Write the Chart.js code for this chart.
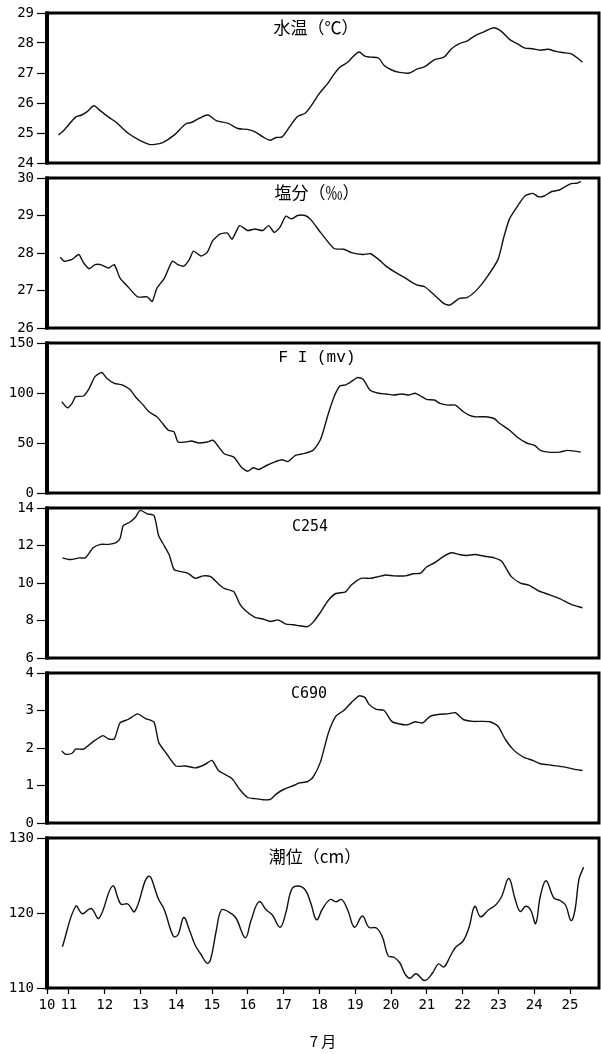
<!DOCTYPE html>
<html>
<head>
<meta charset="utf-8">
<script src="https://cdn.jsdelivr.net/npm/chart.js@4.4.0/dist/chart.umd.min.js"></script>
<style>
  html, body { margin: 0; padding: 0; background: #fff; }
  #wrap { position: relative; width: 601px; height: 1054px; background: #fff; }
  #wrap canvas { position: absolute; left: 0; }
</style>
</head>
<body>
<div id="wrap">
  <canvas id="c1" width="601" height="180" style="top:0px"></canvas>
  <canvas id="c2" width="601" height="180" style="top:165px"></canvas>
  <canvas id="c3" width="601" height="180" style="top:330px"></canvas>
  <canvas id="c4" width="601" height="180" style="top:495px"></canvas>
  <canvas id="c5" width="601" height="180" style="top:660px"></canvas>
  <canvas id="c6" width="601" height="229" style="top:825px"></canvas>
</div>
<script>
// time axis (day of July)
const dayMin = 10.39, dayMax = 25.81;
const dayTicks = [11, 12, 13, 14, 15, 16, 17, 18, 19, 20, 21, 22, 23, 24, 25];

// water temperature
const tempDay = [10.71,10.87,11.19,11.36,11.52,11.70,11.84,12.11,12.32,12.65,12.97,13.24,13.40,13.62,13.94,14.26,14.42,14.64,14.89,15.12,15.45,15.72,15.99,16.20,16.42,16.61,16.79,16.96,17.18,17.39,17.60,17.76,17.98,18.25,18.41,18.57,18.79,18.95,19.11,19.27,19.43,19.65,19.81,20.02,20.24,20.51,20.72,20.94,21.21,21.48,21.69,21.91,22.12,22.34,22.61,22.88,23.09,23.31,23.52,23.74,23.95,24.17,24.39,24.60,24.87,25.03,25.14,25.35];
const tempVal = [24.93,25.10,25.53,25.60,25.72,25.91,25.78,25.53,25.36,25.00,24.76,24.62,24.62,24.68,24.93,25.30,25.35,25.49,25.60,25.41,25.32,25.15,25.12,25.04,24.87,24.76,24.85,24.87,25.23,25.55,25.66,25.89,26.29,26.68,26.96,27.19,27.36,27.56,27.70,27.56,27.53,27.50,27.25,27.10,27.02,27.00,27.13,27.21,27.44,27.53,27.81,27.98,28.06,28.24,28.38,28.51,28.38,28.12,27.98,27.83,27.81,27.76,27.79,27.72,27.67,27.64,27.56,27.36];

// salinity
const salDay = [10.76,10.87,11.09,11.28,11.41,11.57,11.73,11.89,12.11,12.27,12.43,12.65,12.92,13.19,13.33,13.46,13.67,13.89,14.05,14.21,14.37,14.48,14.69,14.86,15.02,15.23,15.43,15.56,15.77,15.99,16.20,16.42,16.58,16.74,16.90,17.06,17.22,17.39,17.60,17.76,18.03,18.41,18.68,18.89,19.22,19.43,19.65,19.86,20.08,20.40,20.72,20.94,21.21,21.48,21.64,21.91,22.12,22.39,22.66,22.99,23.15,23.31,23.52,23.74,23.96,24.12,24.28,24.49,24.71,24.87,25.03,25.19,25.30];
const salVal = [27.89,27.78,27.83,27.96,27.74,27.58,27.69,27.69,27.60,27.69,27.33,27.10,26.83,26.83,26.71,27.06,27.33,27.78,27.69,27.65,27.83,28.05,27.92,28.01,28.33,28.51,28.53,28.37,28.73,28.60,28.64,28.60,28.73,28.55,28.69,28.98,28.91,29.00,29.00,28.89,28.55,28.12,28.10,28.01,27.96,27.98,27.83,27.65,27.51,27.33,27.15,27.10,26.88,26.65,26.61,26.79,26.81,27.01,27.33,27.83,28.42,28.91,29.23,29.52,29.59,29.50,29.52,29.64,29.68,29.77,29.85,29.86,29.91];

// fluorescence FI (mv)
const fiDay = [10.80,10.96,11.09,11.19,11.41,11.57,11.73,11.92,12.06,12.27,12.49,12.70,12.86,13.08,13.24,13.46,13.62,13.78,13.94,14.05,14.26,14.42,14.64,14.86,15.02,15.12,15.34,15.61,15.82,15.99,16.15,16.31,16.52,16.74,16.96,17.12,17.33,17.55,17.82,18.03,18.25,18.41,18.57,18.73,18.89,19.06,19.22,19.41,19.65,19.86,20.08,20.29,20.51,20.67,20.83,20.99,21.21,21.37,21.59,21.80,22.02,22.18,22.34,22.61,22.88,23.04,23.31,23.52,23.79,24.01,24.17,24.39,24.71,24.92,25.14,25.30];
const fiVal = [91.3,85.2,89.6,96.3,97.0,104.7,116.4,120.5,114.8,109.7,108.1,103.7,96.3,87.9,81.2,76.2,69.5,62.8,61.1,51.0,51.0,52.0,50.0,51.0,52.7,49.3,39.3,35.9,25.8,21.8,25.2,23.5,27.5,30.9,33.2,31.5,37.6,39.3,42.6,53.4,79.5,96.3,107.0,108.1,111.4,115.4,113.8,103.0,99.7,99.0,98.0,99.0,98.0,99.7,97.0,93.6,93.0,89.6,87.9,87.9,81.2,77.9,76.2,76.2,74.5,69.5,62.8,56.0,50.0,47.7,42.6,40.9,40.9,42.6,41.9,40.9];

// C254
const c254Day = [10.82,11.03,11.30,11.46,11.68,11.89,12.11,12.32,12.43,12.52,12.70,12.86,12.99,13.19,13.38,13.51,13.67,13.80,13.94,14.10,14.32,14.53,14.75,14.96,15.18,15.34,15.61,15.77,15.93,16.20,16.42,16.63,16.85,17.06,17.28,17.44,17.66,17.82,18.03,18.25,18.46,18.73,18.89,19.16,19.43,19.65,19.86,20.08,20.40,20.62,20.83,20.99,21.21,21.48,21.69,21.91,22.12,22.34,22.61,22.88,23.09,23.36,23.63,23.85,24.12,24.39,24.71,25.03,25.35];
const c254Val = [11.34,11.25,11.34,11.34,11.88,12.06,12.06,12.15,12.37,13.06,13.24,13.51,13.87,13.69,13.60,12.52,11.97,11.52,10.71,10.62,10.53,10.25,10.38,10.34,9.95,9.71,9.53,8.90,8.53,8.17,8.08,7.95,8.03,7.81,7.77,7.72,7.67,7.90,8.44,9.08,9.44,9.53,9.89,10.25,10.25,10.34,10.43,10.38,10.38,10.49,10.53,10.85,11.07,11.43,11.61,11.52,11.47,11.52,11.43,11.34,11.16,10.34,9.98,9.89,9.58,9.40,9.17,8.86,8.68];

// C690
const c690Day = [10.80,10.92,11.09,11.19,11.41,11.68,11.95,12.11,12.27,12.43,12.65,12.92,13.13,13.38,13.51,13.72,13.99,14.26,14.53,14.80,15.00,15.18,15.56,15.77,15.99,16.20,16.42,16.63,16.79,17.01,17.28,17.44,17.66,17.82,18.03,18.25,18.46,18.68,18.89,19.11,19.27,19.38,19.59,19.81,20.02,20.24,20.46,20.67,20.89,21.10,21.37,21.59,21.80,22.02,22.29,22.50,22.77,22.99,23.20,23.42,23.69,23.96,24.17,24.49,24.87,25.14,25.35];
const c690Val = [1.92,1.83,1.86,1.97,1.97,2.17,2.33,2.24,2.24,2.67,2.76,2.91,2.79,2.69,2.15,1.86,1.52,1.52,1.47,1.56,1.67,1.40,1.18,0.90,0.68,0.65,0.62,0.63,0.77,0.90,1.00,1.07,1.10,1.22,1.63,2.40,2.85,3.00,3.21,3.39,3.35,3.17,3.03,3.00,2.71,2.64,2.62,2.70,2.67,2.85,2.90,2.91,2.94,2.76,2.71,2.71,2.70,2.58,2.22,1.95,1.76,1.67,1.58,1.54,1.49,1.43,1.40];

// tide level (cm)
const tideDay = [10.82,11.19,11.38,11.62,11.84,12.22,12.45,12.65,12.84,13.22,13.51,13.67,13.92,14.05,14.21,14.37,14.53,14.69,14.86,14.96,15.12,15.26,15.45,15.66,15.93,16.09,16.31,16.52,16.69,16.90,17.06,17.22,17.39,17.60,17.76,17.92,18.09,18.30,18.46,18.62,18.79,18.98,19.20,19.38,19.59,19.76,19.92,20.08,20.24,20.40,20.53,20.70,20.94,21.16,21.32,21.48,21.64,21.80,22.02,22.18,22.34,22.50,22.72,22.93,23.09,23.29,23.47,23.61,23.76,23.90,24.04,24.17,24.33,24.55,24.71,24.87,25.03,25.14,25.25,25.38];
const tideVal = [115.5,120.9,119.9,120.6,119.3,123.6,121.2,121.2,120.2,124.9,121.8,120.4,116.9,117.1,119.4,117.7,115.7,114.5,113.3,113.8,117.7,120.4,120.2,119.4,116.7,119.0,121.5,120.4,119.7,118.1,120.0,123.1,123.6,123.1,121.3,119.1,120.6,121.8,121.5,121.8,120.4,118.1,119.6,118.1,118.0,116.8,114.3,114.1,113.4,111.8,111.3,111.9,111.0,112.0,113.2,112.8,114.1,115.4,116.3,118.1,120.9,119.5,120.4,121.1,122.2,124.6,121.8,120.2,120.9,120.4,118.6,122.2,124.3,122.0,121.7,121.1,119.0,120.4,124.5,126.1];

const cjk = '17px "Noto Sans CJK JP"';
const mono = '15px "DejaVu Sans Mono"';

const panels = [
  { id: 'c1', title: '水温（℃）', font: cjk, dy: 15, cx: 316, min: 24, max: 29, step: 1, days: tempDay, vals: tempVal, tension: 0.3 },
  { id: 'c2', title: '塩分（‰）', font: cjk, dy: 15, cx: 317, min: 26, max: 30, step: 1, days: salDay, vals: salVal, tension: 0.2 },
  { id: 'c3', title: 'F I (mv)', font: '16px "Liberation Mono"', dy: 15, cx: 317, min: 0, max: 150, step: 50, days: fiDay, vals: fiVal, tension: 0.2 },
  { id: 'c4', title: 'C254', font: mono, dy: 19, cx: 310, min: 6, max: 14, step: 2, days: c254Day, vals: c254Val, tension: 0.2 },
  { id: 'c5', title: 'C690', font: mono, dy: 21, cx: 309, min: 0, max: 4, step: 1, days: c690Day, vals: c690Val, tension: 0.2 },
  { id: 'c6', title: '潮位（cm）', font: cjk, dy: 19, cx: 315, min: 110, max: 130, step: 10, days: tideDay, vals: tideVal, tension: 0.4 }
];

// box frame around each plot plus the in-panel heading
const framePlugin = {
  id: 'frame',
  afterDraw(chart, args, opts) {
    const { ctx, chartArea: a } = chart;
    ctx.save();
    ctx.strokeStyle = '#000';
    ctx.lineWidth = 3;
    ctx.strokeRect(a.left, a.top, a.right - a.left, a.bottom - a.top);
    ctx.lineWidth = 4;
    ctx.beginPath();
    ctx.moveTo(a.left, a.top - 1.5);
    ctx.lineTo(a.left, a.bottom + 1.5);
    ctx.stroke();
    ctx.fillStyle = '#000';
    ctx.font = opts.font;
    ctx.textAlign = 'center';
    ctx.textBaseline = 'middle';
    ctx.fillText(opts.text, opts.cx, a.top + opts.dy);
    ctx.restore();
  }
};

panels.forEach((p, i) => {
  const last = i === panels.length - 1;
  new Chart(document.getElementById(p.id), {
    type: 'line',
    data: {
      datasets: [{
        data: p.days.map((d, k) => ({ x: d, y: p.vals[k] })),
        borderColor: '#111',
        borderWidth: 1.4,
        pointRadius: 0,
        tension: p.tension,
        fill: false
      }]
    },
    options: {
      responsive: false,
      animation: false,
      layout: { padding: { top: 13, right: 2, left: 0, bottom: last ? 0 : 17 } },
      plugins: {
        legend: { display: false },
        tooltip: { enabled: false },
        frame: { text: p.title, font: p.font, dy: p.dy, cx: p.cx }
      },
      scales: {
        x: {
          type: 'linear',
          display: last,
          min: dayMin,
          max: dayMax,
          afterBuildTicks: axis => {
            axis.ticks = [{ value: dayMin }].concat(dayTicks.map(v => ({ value: v })));
          },
          afterFit: s => { s.height = last ? 66 : 0; },
          ticks: {
            autoSkip: false,
            maxRotation: 0,
            padding: 3,
            color: '#000',
            font: { family: 'DejaVu Sans Mono', size: 14 },
            callback: v => (v === dayMin ? '10' : String(v))
          },
          grid: { drawOnChartArea: false, color: '#000', tickLength: 6, tickWidth: 1.2 },
          border: { display: false },
          title: {
            display: true,
            text: '7 月',
            color: '#000',
            font: { family: 'Noto Sans CJK JP', size: 15 },
            padding: { top: 4, bottom: 4 }
          }
        },
        y: {
          min: p.min,
          max: p.max,
          afterFit: s => { s.width = 47; },
          ticks: {
            stepSize: p.step,
            autoSkip: false,
            padding: 3,
            color: '#000',
            font: { family: 'DejaVu Sans Mono', size: 14 }
          },
          grid: { drawOnChartArea: false, color: '#000', tickLength: 10, tickWidth: 1.2 },
          border: { display: false }
        }
      }
    },
    plugins: [framePlugin]
  });
});
</script>
</body>
</html>
